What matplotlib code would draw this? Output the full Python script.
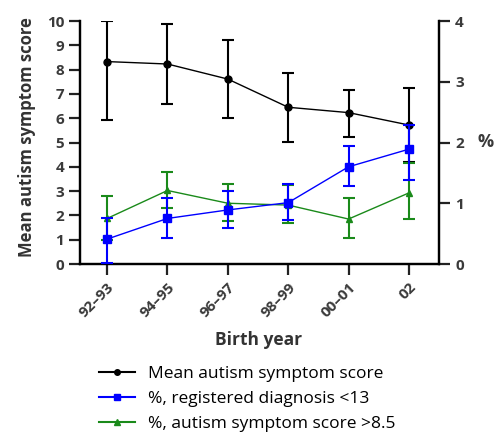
import numpy as np
from matplotlib import pyplot as plt
from matplotlib.lines import Line2D

# birth year groups
years = ['92\u201393', '94\u201395', '96\u201397', '98\u201399', '00\u201301', '02']

# mean autism symptom score (left axis)
score_mean = [8.33, 8.23, 7.61, 6.45, 6.23, 5.72]
score_lo = [5.93, 6.57, 6.00, 5.03, 5.24, 4.18]
score_hi = [10.0, 9.88, 9.22, 7.85, 7.16, 7.26]

# % registered diagnosis <13 (right axis)
diag_pct = [0.41, 0.75, 0.89, 1.01, 1.60, 1.89]
diag_lo = [0.02, 0.42, 0.59, 0.72, 1.28, 1.39]
diag_hi = [0.75, 1.08, 1.20, 1.31, 1.94, 2.29]

# % autism symptom score >8.5 (right axis)
high_pct = [0.75, 1.21, 1.00, 0.97, 0.74, 1.17]
high_lo = [0.40, 0.92, 0.70, 0.67, 0.43, 0.74]
high_hi = [1.12, 1.51, 1.32, 1.30, 1.08, 1.67]

labels = ['Mean autism symptom score', '%, registered diagnosis <13',
          '%, autism symptom score >8.5']
colours = ['black', '#0000ff', '#1a8a1a']
markers = ['o', 's', '^']


def err(mid, lo, hi):
    mid = np.array(mid)
    return [mid - np.array(lo), np.array(hi) - mid]


plt.rcParams['font.family'] = ['Open Sans', 'DejaVu Sans']

fig = plt.figure(figsize=(4.95, 4.33), dpi=100)
ax = fig.add_axes([0.1616, 0.3903, 0.7254, 0.5612])
ax2 = ax.twinx()

x = np.arange(len(years))
kw = dict(linewidth=1.0, elinewidth=1.5, capsize=4, capthick=1.5)

ax.errorbar(x, score_mean, yerr=err(score_mean, score_lo, score_hi), color=colours[0],
            marker=markers[0], markersize=5, zorder=3, **kw)
ax2.errorbar(x, diag_pct, yerr=err(diag_pct, diag_lo, diag_hi), color=colours[1],
             marker=markers[1], markersize=6, zorder=3, **kw)
ax2.errorbar(x, high_pct, yerr=err(high_pct, high_lo, high_hi), color=colours[2],
             marker=markers[2], markersize=5, zorder=2, **kw)

ax.set_xlim(-0.45, 5.5)
ax.set_ylim(0, 10)
ax2.set_ylim(0, 4)
ax.set_yticks(range(0, 11))
ax2.set_yticks(range(0, 5))
ax.set_xticks(x)
ax.set_xticklabels(years, rotation=45, ha='right', rotation_mode='anchor')

for a in (ax, ax2):
    a.spines['top'].set_visible(False)
    for s in a.spines.values():
        s.set_linewidth(1.6)
    a.tick_params(width=1.6, length=8, labelsize=11, color='#222222',
                  labelcolor='#3a3a3a')
for lab in ax.get_xticklabels() + ax.get_yticklabels() + ax2.get_yticklabels():
    lab.set_fontweight('bold')

fig.text(0.054, 1 - 137 / 433, 'Mean autism symptom score', rotation=90, ha='center',
         va='center', fontsize=12, fontweight='bold', color='#333333')
fig.text(0.98, 1 - 142 / 433, '%', ha='center', va='center',
         fontsize=13, fontweight='bold', color='#3a3a3a')
fig.text(0.522, 1 - 340 / 433, 'Birth year', ha='center', va='center',
         fontsize=12.5, fontweight='bold', color='#333333')

handles = [Line2D([], [], color=c, marker=m, markersize=4, linewidth=1.5)
           for c, m in zip(colours, markers)]
fig.legend(handles, labels, loc='upper left', bbox_to_anchor=(0.2, 0.155),
           frameon=False, fontsize=12.5, handlelength=2.1, labelspacing=0.5,
           borderaxespad=0, borderpad=0, handletextpad=0.75)

fig.savefig('out.png', dpi=100)
